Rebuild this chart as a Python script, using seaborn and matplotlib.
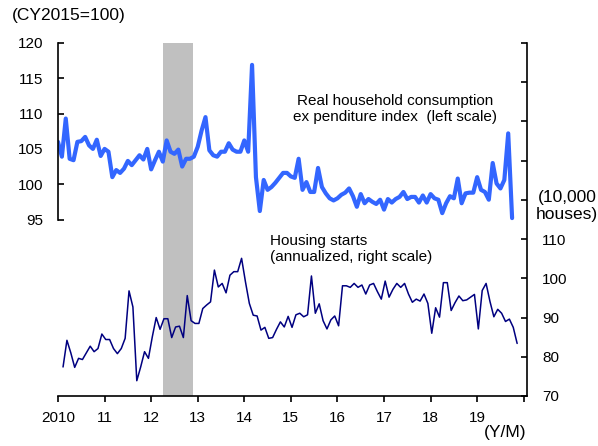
import matplotlib
matplotlib.use("Agg")
import matplotlib.pyplot as plt
import numpy as np
import pandas as pd
import seaborn as sns

sns.set_theme(
    style="white",
    rc={
        "axes.edgecolor": "black",
        "axes.linewidth": 1.2,
        "text.color": "black",
        "xtick.color": "black",
        "ytick.color": "black",
        "lines.solid_joinstyle": "round",
        "lines.solid_capstyle": "round",
    },
)
plt.rcParams["font.family"] = ["Liberation Sans", "DejaVu Sans"]

# Real household consumption expenditure index (CY2015=100), monthly 2010/1 - 2019/10
consumption = [
    106.0, 103.9, 109.3, 103.6, 103.4, 106.0, 106.1, 106.7, 105.5, 105.0, 106.3, 104.0,  # 2010
    105.0, 104.6, 101.0, 102.0, 101.6, 102.2, 103.3, 102.7, 103.4, 104.1, 103.5, 105.0,  # 2011
    102.1, 103.4, 104.6, 103.2, 106.2, 104.6, 104.3, 104.9, 102.5, 103.6, 103.6, 103.9,  # 2012
    105.3, 107.6, 109.5, 104.8, 104.1, 103.9, 104.6, 104.6, 105.8, 104.9, 104.6, 104.6,  # 2013
    106.2, 104.6, 116.9, 101.0, 96.2, 100.6, 99.2, 99.6, 100.2, 100.9, 101.6, 101.6,  # 2014
    101.1, 100.9, 103.6, 99.2, 100.3, 98.9, 98.9, 102.3, 99.6, 98.7, 98.0, 97.7,  # 2015
    98.0, 98.5, 98.8, 99.4, 98.3, 96.8, 98.6, 97.3, 97.9, 97.5, 97.2, 97.8,  # 2016
    96.4, 97.9, 97.4, 97.9, 98.2, 98.9, 97.9, 98.2, 98.2, 97.4, 98.4, 97.4,  # 2017
    98.6, 98.0, 97.8, 95.9, 97.3, 98.3, 98.0, 100.8, 97.3, 98.7, 98.8, 98.8,  # 2018
    101.0, 99.2, 98.9, 97.8, 103.0, 100.1, 99.4, 100.6, 107.2, 95.2,  # 2019
]

# Housing starts, annualized (10,000 houses)
housing = [
    77.4, 84.2, 81.0, 77.3, 79.6, 79.3, 81.0, 82.7, 81.3, 82.1, 85.8, 84.4,
    84.4, 82.1, 80.8, 82.1, 84.7, 96.8, 92.7, 73.9, 77.4, 81.3, 79.6, 85.1,
    90.0, 87.0, 89.7, 89.7, 84.9, 87.6, 87.8, 84.9, 95.6, 89.2, 88.5, 88.5,
    92.3, 93.2, 94.0, 102.1, 97.8, 98.7, 96.3, 100.8, 101.7, 101.7, 105.1, 99.1,
    93.6, 90.6, 90.4, 86.8, 87.5, 84.7, 84.9, 87.0, 88.9, 87.6, 90.3, 87.5,
    90.7, 91.1, 90.2, 90.7, 100.6, 91.1, 93.5, 89.2, 87.1, 89.4, 90.4, 87.9,
    98.1, 98.1, 97.7, 98.7, 97.7, 98.3, 96.0, 98.3, 98.7, 96.6, 94.7, 99.3,
    95.2, 97.2, 98.7, 97.7, 98.7, 96.0, 93.9, 94.7, 94.2, 96.0, 93.6, 86.0,
    92.5, 90.1, 98.9, 98.9, 91.8, 93.8, 95.5, 94.3, 94.5, 95.2, 95.9, 87.1,
    96.9, 98.7, 94.1, 90.2, 92.1, 91.1, 89.0, 89.6, 87.5, 83.4,
]

year_ticks = list(range(2010, 2021))
year_labels = ["2010", "11", "12", "13", "14", "15", "16", "17", "18", "19", ""]
left_ticks = [95, 100, 105, 110, 115, 120]
right_ticks = [70, 80, 90, 100, 110, 120, 130, 140, 150, 160]
right_labels = ["70", "80", "90", "100", "110", "", "", "", "", ""]
recession = (2012.25, 2012.9)

cons_df = pd.DataFrame({"year": 2010 + np.arange(len(consumption)) / 12,
                        "value": consumption})
house_df = pd.DataFrame({"year": 2010 + (np.arange(len(housing)) + 1.3) / 12,
                         "value": housing})

W, H = 598, 446
fig = plt.figure(figsize=(W / 100, H / 100), dpi=100)
ax = fig.add_axes([58 / W, 1 - 396 / H, 469 / W, 353 / H])
ax2 = ax.twinx()

ax.axvspan(*recession, color="#c0c0c0", lw=0, zorder=0)
sns.lineplot(data=cons_df, x="year", y="value", ax=ax, color="#3366ff",
             linewidth=3.0, legend=False)
sns.lineplot(data=house_df, x="year", y="value", ax=ax2, color="#000080",
             linewidth=1.1, legend=False)

ax.set_xlim(2010, 2020.07)
ax.set_ylim(70, 120)
ax2.set_ylim(70, 160)

ax.set_xticks(year_ticks)
ax.set_xticklabels(year_labels)
ax.set_yticks(left_ticks)
ax2.set_yticks(right_ticks)
ax2.set_yticklabels(right_labels)
for a in (ax, ax2):
    a.set_xlabel("")
    a.set_ylabel("")

ax.spines["top"].set_visible(False)
ax.spines["right"].set_visible(False)
ax.spines["left"].set_bounds(95, 120)
for s in ("top", "left", "bottom"):
    ax2.spines[s].set_visible(False)
ax2.spines["right"].set_linewidth(1.2)

ax.tick_params(axis="x", direction="out", length=4, width=1.2, pad=6.5,
               labelsize=11, bottom=True)
ax.tick_params(axis="y", direction="in", length=4, width=1.2, pad=10.5,
               labelsize=11, left=True)
ax2.tick_params(axis="y", direction="in", length=4, width=1.2, pad=11,
                labelsize=11, right=True)

fig.text(12 / W, 1 - 15.5 / H, "(CY2015=100)", ha="left", va="center",
         fontsize=12.5)
fig.text(567 / W, 1 - 206 / H, "(10,000\nhouses)", ha="center", va="center",
         fontsize=12.5, multialignment="center")
fig.text(505 / W, 1 - 432 / H, "(Y/M)", ha="center", va="center",
         fontsize=12.5)
fig.text(395 / W, 1 - 109 / H,
         "Real household consumption\nex penditure index  (left scale)",
         ha="center", va="center", fontsize=11, multialignment="center")
fig.text(270 / W, 1 - 249 / H, "Housing starts\n(annualized, right scale)",
         ha="left", va="center", fontsize=11, multialignment="left")

fig.savefig("out.png", dpi=100)
